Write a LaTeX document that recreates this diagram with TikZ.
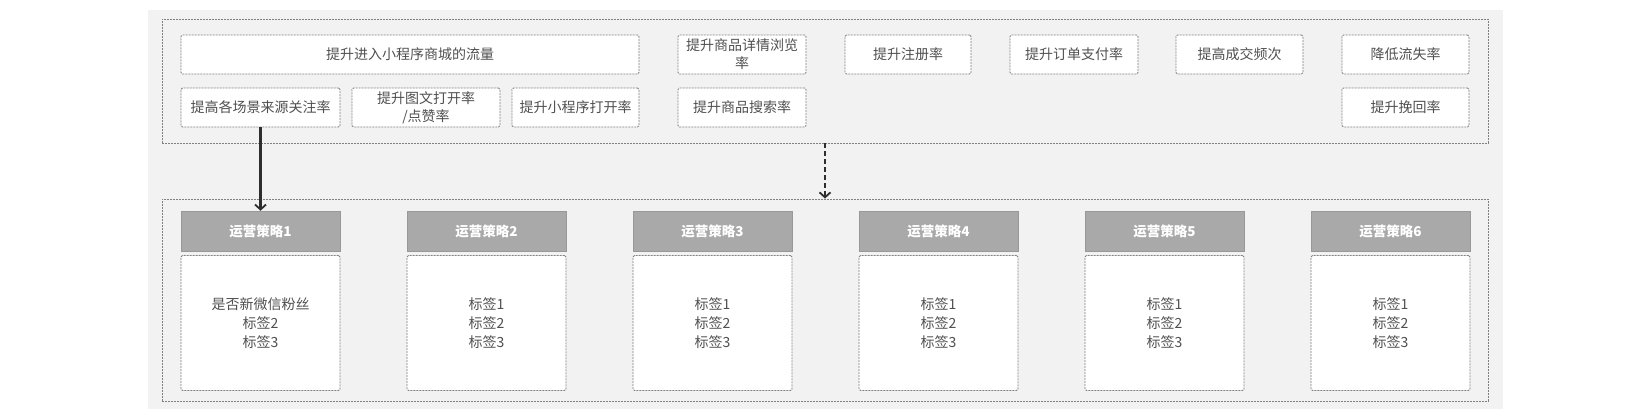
\documentclass[tikz,border=0pt]{standalone}
\usepackage{fontspec}
\setmainfont{Noto Sans CJK SC}
\usetikzlibrary{arrows.meta}
\definecolor{bgc}{HTML}{F2F2F2}
\definecolor{bordc}{HTML}{808080}
\definecolor{txt}{HTML}{505050}
\definecolor{headc}{HTML}{A9A9A9}
\definecolor{arrc}{HTML}{2E2E2E}
\begin{document}
\begin{tikzpicture}[x=1pt,y=-1pt,
  box/.style={draw=bordc, dash pattern=on 2pt off 1pt, line width=0.9pt, fill=white,
    rounded corners=1.5pt, text=txt, font=\fontsize{14}{18}\selectfont, align=center, inner sep=0pt},
  rowbox/.style={box, minimum height=39},
  outerbox/.style={draw=bordc, dash pattern=on 2pt off 1pt, line width=0.9pt, inner sep=0pt},
  headbox/.style={fill=headc, draw=headc!90!black, line width=0.5pt, text=white,
    font=\fontsize{13.5}{16}\selectfont\bfseries, minimum width=159, minimum height=40, inner sep=0pt},
  bodybox/.style={box, minimum width=159, minimum height=135, font=\fontsize{14}{19}\selectfont},
  conn/.style={draw=arrc, line width=2.2pt, -{Straight Barb[length=5pt,width=11pt,line width=1.8pt]}},
]
\fill[white] (0,0) rectangle (1644,420);
\useasboundingbox (0,0) rectangle (1644,420);
\fill[bgc] (148,10) rectangle (1503,409);

% top group
\node[outerbox, minimum width=1326, minimum height=124] (top) at (825,81) {};
\node[rowbox, minimum width=458] (r1a) at (410,54.5) {提升进入小程序商城的流量};
\node[rowbox, minimum width=128] (r1b) at (742,54.5) {提升商品详情浏览\\率};
\node[rowbox, minimum width=126] (r1c) at (908,54.5) {提升注册率};
\node[rowbox, minimum width=128] (r1d) at (1074,54.5) {提升订单支付率};
\node[rowbox, minimum width=127] (r1e) at (1239.5,54.5) {提高成交频次};
\node[rowbox, minimum width=127] (r1f) at (1405.5,54.5) {降低流失率};
\node[rowbox, minimum width=159] (r2a) at (260.5,107.5) {提高各场景来源关注率};
\node[rowbox, minimum width=148] (r2b) at (426,107.5) {提升图文打开率\\/点赞率};
\node[rowbox, minimum width=127] (r2c) at (575.5,107.5) {提升小程序打开率};
\node[rowbox, minimum width=128] (r2d) at (742,107.5) {提升商品搜索率};
\node[rowbox, minimum width=127] (r2f) at (1405.5,107.5) {提升挽回率};

% bottom group
\node[outerbox, minimum width=1326, minimum height=202] (bot) at (825,300) {};
\node[headbox] (h1) at (260.5,231) {运营策略1};
\node[headbox] (h2) at (486.5,231) {运营策略2};
\node[headbox] (h3) at (712.5,231) {运营策略3};
\node[headbox] (h4) at (938.5,231) {运营策略4};
\node[headbox] (h5) at (1164.5,231) {运营策略5};
\node[headbox] (h6) at (1390.5,231) {运营策略6};
\node[bodybox] (b1) at (260.5,323) {是否新微信粉丝\\标签2\\标签3};
\node[bodybox] (b2) at (486.5,323) {标签1\\标签2\\标签3};
\node[bodybox] (b3) at (712.5,323) {标签1\\标签2\\标签3};
\node[bodybox] (b4) at (938.5,323) {标签1\\标签2\\标签3};
\node[bodybox] (b5) at (1164.5,323) {标签1\\标签2\\标签3};
\node[bodybox] (b6) at (1390.5,323) {标签1\\标签2\\标签3};

% connectors
\draw[conn] (r2a.south) -- (h1.north);
\draw[conn, dash pattern=on 5pt off 3pt] (top.south) -- (bot.north);
\end{tikzpicture}
\end{document}
